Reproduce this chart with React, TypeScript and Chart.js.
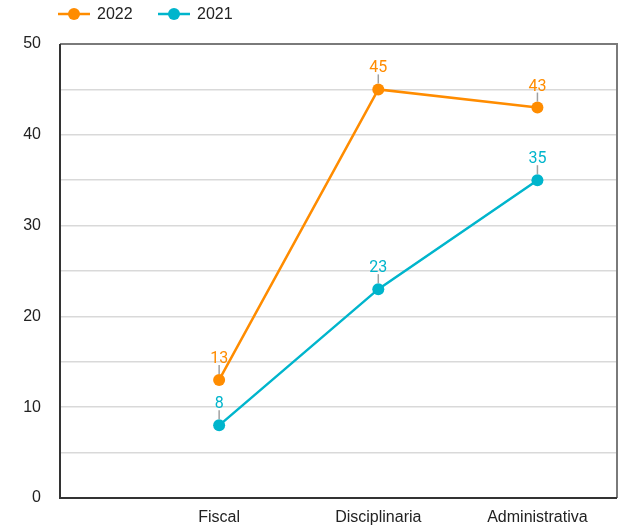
import React, { useEffect, useRef } from "react";
import { Chart, registerables } from "chart.js";

Chart.register(...registerables);

const categories = ["Fiscal", "Disciplinaria", "Administrativa"];
const values2022 = [13, 45, 43];
const values2021 = [8, 23, 35];
const seriesNames = ["2022", "2021"];
const colors = ["#FF8C00", "#00B5CC"];

const AXIS_FONT = "'Liberation Sans', Arial, sans-serif";
const LABEL_FONT = "Roboto, 'Liberation Sans', sans-serif";

const overlayPlugin = {
  id: "overlay",
  afterDraw(chart: any) {
    const { ctx, chartArea } = chart;
    ctx.save();
    // plot border
    ctx.lineWidth = 2;
    ctx.strokeStyle = "#7a7a7a";
    ctx.beginPath();
    ctx.moveTo(chartArea.left, chartArea.top);
    ctx.lineTo(chartArea.right, chartArea.top);
    ctx.lineTo(chartArea.right, chartArea.bottom);
    ctx.stroke();
    ctx.strokeStyle = "#333333";
    ctx.beginPath();
    ctx.moveTo(chartArea.left, chartArea.top);
    ctx.lineTo(chartArea.left, chartArea.bottom);
    ctx.lineTo(chartArea.right, chartArea.bottom);
    ctx.stroke();

    // value labels with leader lines
    chart.data.datasets.forEach((ds: any, di: number) => {
      const meta = chart.getDatasetMeta(di);
      meta.data.forEach((pt: any, i: number) => {
        const v = ds.data[i].y;
        ctx.strokeStyle = "#a0a0a0";
        ctx.lineWidth = 1.5;
        ctx.beginPath();
        ctx.moveTo(pt.x, pt.y - 6);
        ctx.lineTo(pt.x, pt.y - 15);
        ctx.stroke();
        ctx.fillStyle = ds.borderColor;
        ctx.font = "16px " + LABEL_FONT;
        ctx.textAlign = "center";
        ctx.textBaseline = "alphabetic";
        ctx.fillText(String(v), pt.x, pt.y - 17);
      });
    });

    // legend
    const legendY = 14;
    const starts = [58, 158];
    chart.data.datasets.forEach((ds: any, di: number) => {
      const x0 = starts[di];
      ctx.strokeStyle = ds.borderColor;
      ctx.lineWidth = 2.5;
      ctx.beginPath();
      ctx.moveTo(x0, legendY);
      ctx.lineTo(x0 + 32, legendY);
      ctx.stroke();
      ctx.fillStyle = ds.borderColor;
      ctx.beginPath();
      ctx.arc(x0 + 16, legendY, 6, 0, Math.PI * 2);
      ctx.fill();
      ctx.fillStyle = "#222222";
      ctx.font = "16px " + AXIS_FONT;
      ctx.textAlign = "left";
      ctx.textBaseline = "middle";
      ctx.fillText(ds.label, x0 + 39, legendY + 1);
    });
    ctx.restore();
  },
};

export default function App() {
  const ref = useRef<HTMLCanvasElement>(null);
  useEffect(() => {
    document.body.style.margin = "0";
    const mk = (vals: number[]) => vals.map((v, i) => ({ x: i + 1, y: v }));
    const chart = new Chart(ref.current!, {
      type: "line",
      data: {
        datasets: [
          {
            label: seriesNames[0],
            data: mk(values2022),
            borderColor: colors[0],
            backgroundColor: colors[0],
            borderWidth: 2.5,
            pointRadius: 6,
            pointHoverRadius: 6,
            pointBorderWidth: 0,
          },
          {
            label: seriesNames[1],
            data: mk(values2021),
            borderColor: colors[1],
            backgroundColor: colors[1],
            borderWidth: 2.5,
            pointRadius: 6,
            pointHoverRadius: 6,
            pointBorderWidth: 0,
          },
        ],
      },
      options: {
        animation: false,
        responsive: false,
        maintainAspectRatio: false,
        layout: { autoPadding: false, padding: { top: 44, right: 3, left: 0, bottom: 0 } },
        plugins: { legend: { display: false }, tooltip: { enabled: false } },
        scales: {
          x: {
            type: "linear",
            min: 0,
            max: 3.5,
            grid: { display: false, drawTicks: false },
            border: { display: false },
            afterBuildTicks: (scale: any) => {
              scale.ticks = categories.map((_, i) => ({ value: i + 1 }));
            },
            afterFit: (scale: any) => {
              scale.height = 30;
            },
            ticks: {
              autoSkip: false,
              maxRotation: 0,
              padding: 10,
              color: "#222222",
              font: { size: 16, family: AXIS_FONT },
              callback: (v: any) => categories[Math.round(v) - 1] ?? "",
            },
          },
          y: {
            min: 0,
            max: 50,
            grid: { color: "#d9d9d9", lineWidth: 1.5, drawTicks: false },
            border: { display: false },
            afterFit: (scale: any) => {
              scale.width = 60;
            },
            ticks: {
              stepSize: 5,
              padding: 19,
              color: "#222222",
              font: { size: 16, family: AXIS_FONT },
              callback: (v: any) => (v % 10 === 0 ? String(v) : ""),
            },
          },
        },
      },
      plugins: [overlayPlugin],
    } as any);
    return () => chart.destroy();
  }, []);
  return (
    <div style={{ position: "absolute", left: 0, top: 0, width: 620, height: 528, background: "#fff" }}>
      <canvas ref={ref} width={620} height={528} style={{ width: 620, height: 528 }} />
    </div>
  );
}
